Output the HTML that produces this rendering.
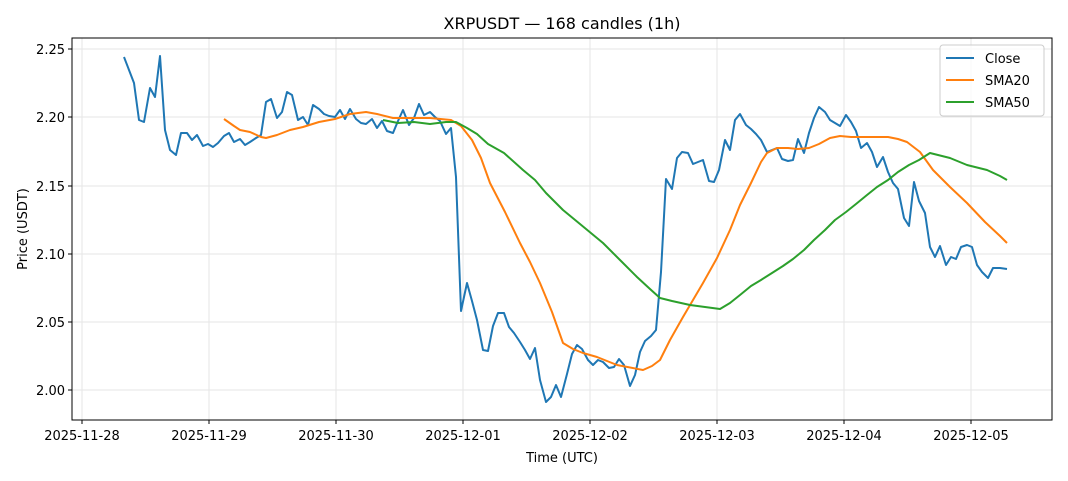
<!DOCTYPE html>
<html><head><meta charset="utf-8"><style>body{margin:0;background:#fff}svg{display:block;font-family:"DejaVu Sans","Liberation Sans",sans-serif}</style></head><body>
<svg width="1068" height="481" xmlns="http://www.w3.org/2000/svg">
<rect width="1068" height="481" fill="#fff"/>
<g stroke="#e5e5e5" stroke-width="1">
<line x1="82" y1="38" x2="82" y2="420"/><line x1="209" y1="38" x2="209" y2="420"/><line x1="336" y1="38" x2="336" y2="420"/><line x1="463" y1="38" x2="463" y2="420"/><line x1="590" y1="38" x2="590" y2="420"/><line x1="717" y1="38" x2="717" y2="420"/><line x1="844" y1="38" x2="844" y2="420"/><line x1="971" y1="38" x2="971" y2="420"/>
<line x1="72" y1="49" x2="1052" y2="49"/><line x1="72" y1="117" x2="1052" y2="117"/><line x1="72" y1="186" x2="1052" y2="186"/><line x1="72" y1="254" x2="1052" y2="254"/><line x1="72" y1="322" x2="1052" y2="322"/><line x1="72" y1="390" x2="1052" y2="390"/>
</g>
<polyline fill="none" stroke="#1f77b4" stroke-width="2" stroke-linejoin="round" points="124,57 129,70 134,83 139,120 144,122 150,88 155,97 160,56 165,130 170,150 176,155 181,133 187,133 192,140 197,135 203,146 208,144 213,147 218,143 224,136 229,133 234,142 240,139 245,145 250,142 256,138 261,135 266,102 271,99 277,118 282,112 287,92 292,95 298,120 303,117 308,125 313,105 319,109 324,114 329,116 335,117 340,110 345,119 350,109 356,119 361,123 366,124 372,119 377,128 382,121 387,131 393,133 398,121 403,110 409,125 414,118 419,104 424,115 430,112 435,117 440,121 446,134 451,128 456,177 461,311 467,283 472,301 477,320 483,350 488,351 493,326 498,313 504,313 509,327 514,333 520,342 525,350 530,359 535,348 540,380 546,402 551,397 556,385 561,397 567,374 572,354 577,345 582,349 588,360 593,365 598,360 603,362 609,368 614,367 619,359 624,365 630,386 635,375 640,352 645,341 651,336 656,330 661,272 666,179 672,189 677,158 682,152 688,153 693,164 698,162 703,160 709,181 714,182 719,170 725,140 730,150 735,120 740,114 746,125 751,129 756,134 761,140 767,152 772,150 777,148 782,159 788,161 793,160 798,139 804,153 809,133 814,118 819,107 825,112 830,120 835,123 840,126 846,115 851,122 856,131 861,148 867,143 872,152 877,167 883,157 888,172 893,183 898,189 904,218 909,226 914,182 919,201 925,213 930,247 935,257 940,246 946,265 951,257 956,259 961,247 967,245 972,247 977,265 982,272 988,278 993,268 1000,268 1007,269"/>
<polyline fill="none" stroke="#ff7f0e" stroke-width="2" stroke-linejoin="round" points="224,119 234,126 240,130 250,132 261,137 266,138 277,135 290,130 303,127 319,122 335,119 350,114 366,112 377,114 393,118 409,118 430,118 451,120 461,126 472,140 481,158 490,183 505,212 520,243 530,262 540,283 552,312 563,343 573,349 583,353 597,357 617,365 643,370 652,366 660,360 670,340 683,317 693,300 703,283 717,258 730,230 740,205 751,183 761,162 767,153 777,148 788,148 798,149 809,148 819,144 830,138 840,136 851,137 861,137 873,137 888,137 898,139 907,142 920,152 933,170 950,187 967,203 985,222 1000,236 1007,243"/>
<polyline fill="none" stroke="#2ca02c" stroke-width="2" stroke-linejoin="round" points="383,120 398,123 414,122 430,124 446,122 456,122 467,128 477,134 488,144 504,153 523,170 535,180 546,193 563,210 580,224 603,243 620,260 637,277 650,289 660,298 672,301 690,305 705,307 720,309 730,303 740,295 751,286 761,280 772,273 783,266 793,259 804,250 814,240 825,230 835,220 846,212 856,204 867,195 877,187 888,180 898,172 909,165 919,160 930,153 950,158 967,165 987,170 1000,176 1007,180"/>
<rect x="72" y="38" width="980" height="382" fill="none" stroke="#000" stroke-width="1"/>
<g stroke="#000"><line x1="82" y1="420" x2="82" y2="424"/><line x1="209" y1="420" x2="209" y2="424"/><line x1="336" y1="420" x2="336" y2="424"/><line x1="463" y1="420" x2="463" y2="424"/><line x1="590" y1="420" x2="590" y2="424"/><line x1="717" y1="420" x2="717" y2="424"/><line x1="844" y1="420" x2="844" y2="424"/><line x1="971" y1="420" x2="971" y2="424"/>
<line x1="68" y1="49" x2="72" y2="49"/><line x1="68" y1="117" x2="72" y2="117"/><line x1="68" y1="186" x2="72" y2="186"/><line x1="68" y1="254" x2="72" y2="254"/><line x1="68" y1="322" x2="72" y2="322"/><line x1="68" y1="390" x2="72" y2="390"/></g>
<g font-size="13" fill="#000" text-anchor="middle"><text x="82" y="440">2025-11-28</text><text x="209" y="440">2025-11-29</text><text x="336" y="440">2025-11-30</text><text x="463" y="440">2025-12-01</text><text x="590" y="440">2025-12-02</text><text x="717" y="440">2025-12-03</text><text x="844" y="440">2025-12-04</text><text x="971" y="440">2025-12-05</text></g>
<g font-size="13" fill="#000" text-anchor="end"><text x="65" y="54">2.25</text><text x="65" y="122">2.20</text><text x="65" y="191">2.15</text><text x="65" y="259">2.10</text><text x="65" y="327">2.05</text><text x="65" y="395">2.00</text></g>
<text x="562" y="462" font-size="13" text-anchor="middle">Time (UTC)</text>
<text transform="translate(27,229) rotate(-90)" font-size="13" text-anchor="middle">Price (USDT)</text>
<text x="562" y="29" font-size="16" text-anchor="middle">XRPUSDT — 168 candles (1h)</text>
<rect x="940" y="45" width="104" height="71" rx="3" fill="#fff" fill-opacity="0.8" stroke="#ccc"/>
<line x1="946" y1="58" x2="974" y2="58" stroke="#1f77b4" stroke-width="2"/><text x="985" y="63" font-size="13">Close</text>
<line x1="946" y1="80" x2="974" y2="80" stroke="#ff7f0e" stroke-width="2"/><text x="985" y="85" font-size="13">SMA20</text>
<line x1="946" y1="102" x2="974" y2="102" stroke="#2ca02c" stroke-width="2"/><text x="985" y="107" font-size="13">SMA50</text>
</svg>
</body></html>
